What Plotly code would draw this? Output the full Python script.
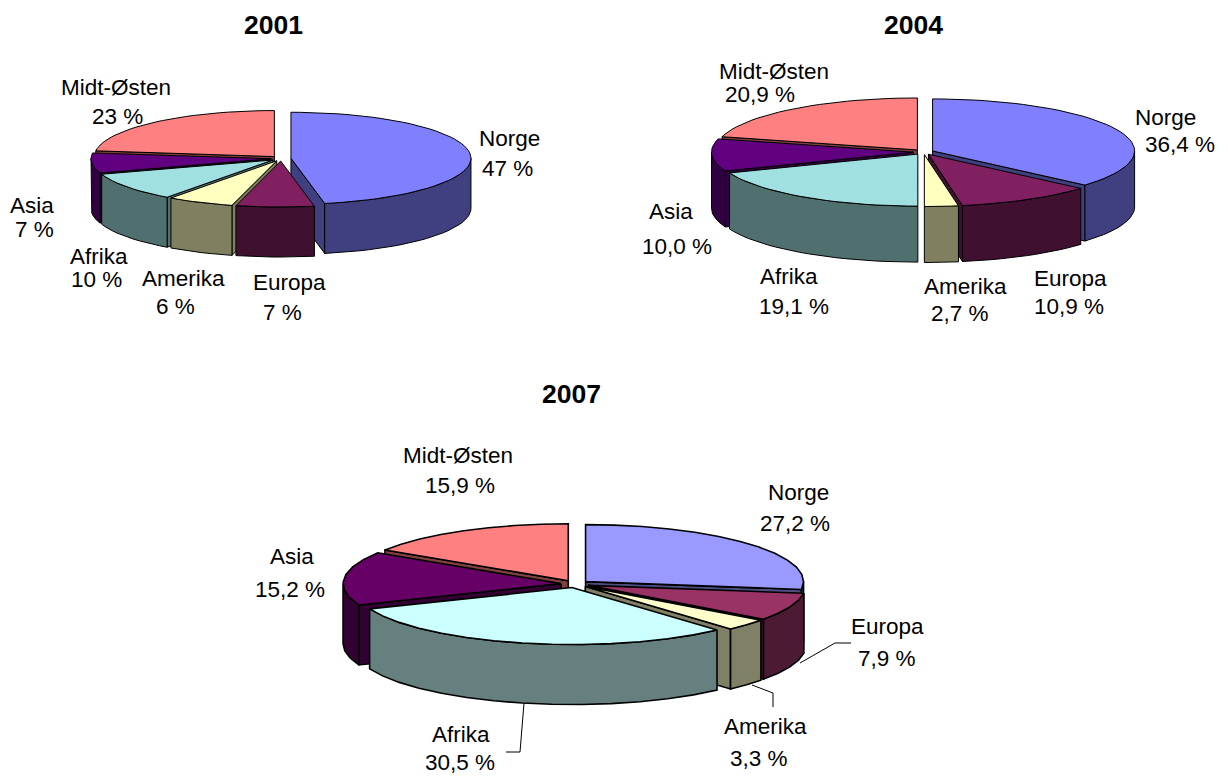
import numpy as np
import plotly.graph_objects as go

categories = ["Norge", "Europa", "Amerika", "Afrika", "Asia", "Midt-Østen"]
values_2001 = [47, 7, 6, 10, 7, 23]
values_2004 = [36.4, 10.9, 2.7, 19.1, 10.0, 20.9]
values_2007 = [27.2, 7.9, 3.3, 30.5, 15.2, 15.9]

top_a = ["#8080FF", "#802060", "#FFFFC0", "#A0E0E0", "#600080", "#FF8080"]
side_a = ["#404080", "#401030", "#808060", "#507070", "#300040", "#804040"]
top_b = ["#9999FF", "#993366", "#FFFFCC", "#CCFFFF", "#660066", "#FF8080"]
side_b = ["#4D4D80", "#4D1A33", "#808066", "#668080", "#330033", "#804040"]

FONT = "Liberation Sans, Arial, sans-serif"

charts = [
    dict(vals=values_2001, fmt="{:.0f} %", cx=281, cy=158.5, rx=180, ry=46, depth=50, e=10, lw=1.0, n=3.0, top=top_a, side=side_a,
         title="2001", tpos=(273, 25),
         lab=[((509, 138), (507, 168)), ((289, 282), (282, 312)), ((183, 278), (175, 306)),
              ((99, 256), (96, 279)), ((32, 205), (34, 229)), ((116, 87), (117, 116))]),
    dict(vals=values_2004, fmt="{:.1f} %", cx=923.5, cy=152, rx=202, ry=52, depth=56, e=10, lw=1.0, n=3.0, top=top_a, side=side_a,
         title="2004", tpos=(913, 25),
         lab=[((1165, 117), (1180, 144)), ((1070, 278), (1069, 306)), ((965, 286), (960, 313)),
              ((789, 276), (794, 306)), ((671, 211), (677, 246)), ((774, 71), (760, 94))]),
    dict(vals=values_2007, fmt="{:.1f} %", cx=575, cy=584, rx=218, ry=57, depth=60, e=14, lw=1.6, n=8.0, top=top_b, side=side_b,
         title="2007", tpos=(571, 394),
         lab=[((798, 492), (795, 523)), ((887, 626), (887, 658)), ((765, 726), (759, 758)),
              ((461, 734), (460, 762)), ((292, 556), (290, 589)), ((458, 455), (460, 485))]),
]

leaders = [
    ([851, 835, 800], [643, 643, 663]),
    ([752, 773, 773], [685, 693, 707]),
    ([524, 520, 506], [703, 752, 752]),
]

fig = go.Figure()


def poly(xs, ys, fill, name, lw):
    fig.add_trace(go.Scatter(x=list(xs), y=list(ys), mode="lines", fill="toself", fillcolor=fill,
                             line=dict(color="black", width=lw), name=name, hoverinfo="name",
                             showlegend=False))


def arc(a, b, step):
    n = max(2, int(abs(b - a) / step) + 2)
    return np.radians(np.linspace(a, b, n))


for c in charts:
    vals = np.array(c["vals"], dtype=float)
    edges = np.concatenate([[0], np.cumsum(vals)]) / vals.sum() * 360
    slices = []
    for i, name in enumerate(categories):
        a, b = edges[i], edges[i + 1]
        m = np.radians((a + b) / 2)
        ax = c["cx"] + c["e"] * np.sin(m)
        ay = c["cy"] - c["e"] * np.cos(m) * c["ry"] / c["rx"]
        t = arc(a, b, c["n"])
        px = ax + c["rx"] * np.sin(t)
        py = ay - c["ry"] * np.cos(t)
        slices.append(dict(i=i, a=a, b=b, ax=ax, ay=ay, t=t, px=px, py=py, depth_key=ay - c["ry"] * np.cos(m) * 0.6))
    for s in sorted(slices, key=lambda q: q["depth_key"]):
        i, a, b, ax, ay = s["i"], s["a"], s["b"], s["ax"], s["ay"]
        d = c["depth"]
        name = categories[i]
        # radial walls facing the viewer
        if a > 180:
            ex, ey = s["px"][0], s["py"][0]
            poly([ax, ex, ex, ax, ax], [ay, ey, ey + d, ay + d, ay], c["side"][i], name, c["lw"])
        if b < 180:
            ex, ey = s["px"][-1], s["py"][-1]
            poly([ax, ex, ex, ax, ax], [ay, ey, ey + d, ay + d, ay], c["side"][i], name, c["lw"])
        # outer wall
        lo, hi = max(a, 90), min(b, 270)
        if hi > lo:
            t = arc(lo, hi, c["n"])
            ox = ax + c["rx"] * np.sin(t)
            oy = ay - c["ry"] * np.cos(t)
            poly(np.r_[ox, ox[::-1], ox[0]], np.r_[oy, oy[::-1] + d, oy[0]], c["side"][i], name, c["lw"])
        # top face
        poly(np.r_[ax, s["px"], ax], np.r_[ay, s["py"], ay], c["top"][i], name, c["lw"])

for lx, ly in leaders:
    fig.add_trace(go.Scatter(x=lx, y=ly, mode="lines", line=dict(color="black", width=1),
                             showlegend=False, hoverinfo="skip"))

ann = []
for c in charts:
    ann.append(dict(x=c["tpos"][0], y=c["tpos"][1], text="<b>%s</b>" % c["title"], showarrow=False,
                    font=dict(family=FONT, size=26.5, color="black"), xref="x", yref="y"))
    for name, v, (p1, p2) in zip(categories, c["vals"], c["lab"]):
        ann.append(dict(x=p1[0], y=p1[1], text=name, showarrow=False,
                        font=dict(family=FONT, size=22.5, color="black"), xref="x", yref="y"))
        ann.append(dict(x=p2[0], y=p2[1], text=c["fmt"].format(v).replace(".", ","), showarrow=False,
                        font=dict(family=FONT, size=22.5, color="black"), xref="x", yref="y"))

fig.update_layout(
    width=1228, height=776, autosize=False,
    margin=dict(l=0, r=0, t=0, b=0),
    paper_bgcolor="white", plot_bgcolor="white",
    xaxis=dict(range=[0, 1228], visible=False, fixedrange=True),
    yaxis=dict(range=[776, 0], visible=False, fixedrange=True),
    annotations=ann, showlegend=False,
)
fig.write_html("out.html", config={"displayModeBar": False},
               post_script="document.body.style.margin='0';document.documentElement.style.overflow='hidden';")
